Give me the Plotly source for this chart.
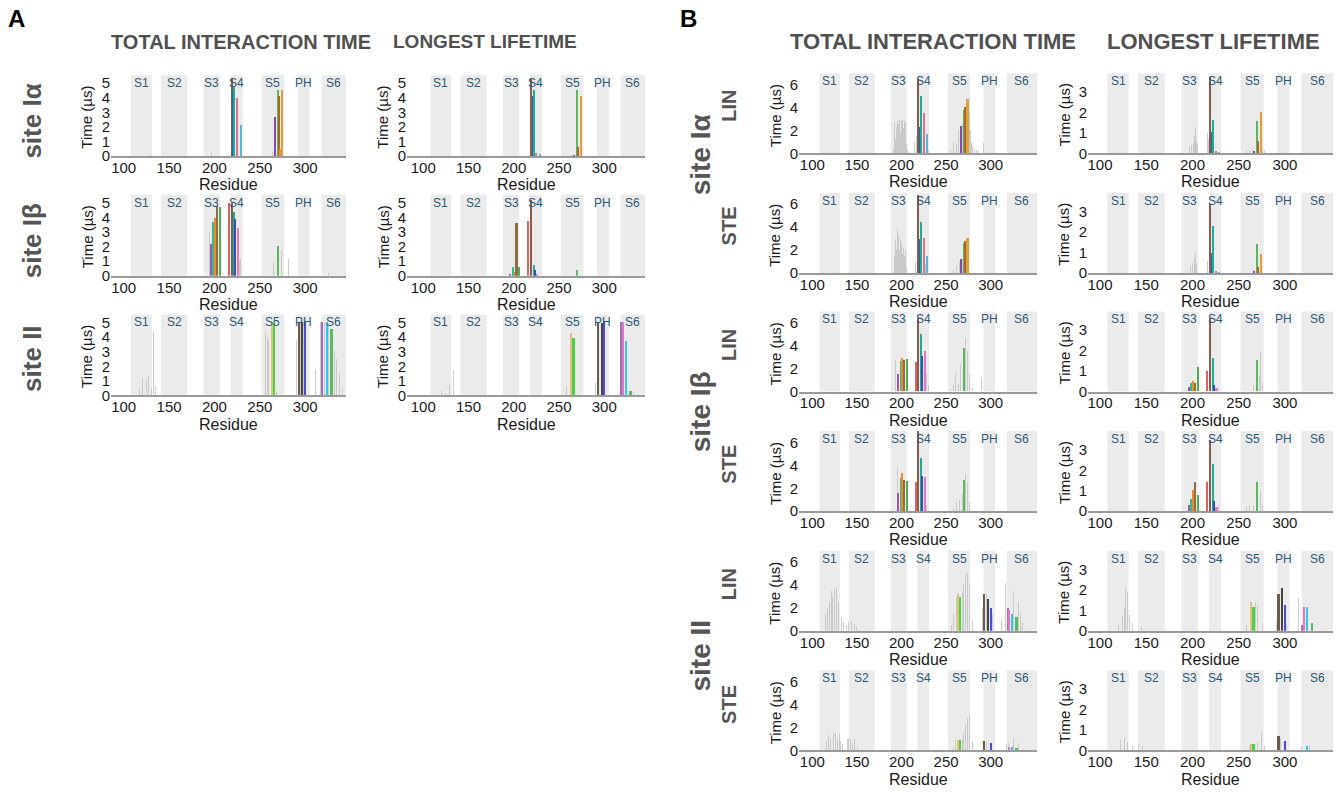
import plotly.graph_objects as go

# ======================= DATA =======================
BAND_NAMES = ["S1", "S2", "S3", "S4", "S5", "PH", "S6"]
BAND_START = [108, 141, 188, 218, 252, 292, 318]
BAND_END = [131, 170, 206, 231, 277, 305, 352]
X_TICKS = [100, 150, 200, 250, 300]

# ---- Panel A, site I-alpha ----
A_Ia_tot_gray_res = [130, 194, 197, 264, 322]
A_Ia_tot_gray_val = [0.1, 1.0, 0.3, 0.3, 0.1]
A_Ia_tot_res = [219, 221, 222, 225, 229, 267, 270, 271, 272, 274]
A_Ia_tot_val = [5.3, 4.45, 4.7, 3.95, 2.15, 2.65, 4.5, 4.1, 0.5, 4.5]
A_Ia_long_gray_res = [198, 264]
A_Ia_long_gray_val = [0.05, 0.05]
A_Ia_long_res = [219, 221, 222, 225, 229, 267, 270, 271, 274]
A_Ia_long_val = [5.3, 4.1, 4.5, 0.2, 0.15, 0.1, 4.5, 0.6, 4.1]

# ---- Panel A, site I-beta ----
A_Ib_tot_gray_res = [195, 228, 229, 265, 274, 280, 282, 326]
A_Ib_tot_gray_val = [3.0, 1.1, 1.2, 0.9, 1.8, 1.3, 1.2, 0.2]
A_Ib_tot_res = [196, 199, 201, 203, 206, 216, 219, 222, 223, 226, 270]
A_Ib_tot_val = [2.2, 3.7, 4.0, 4.8, 4.7, 5.0, 5.0, 4.4, 3.9, 3.3, 2.05]
A_Ib_long_gray_res = [274]
A_Ib_long_gray_val = [0.1]
A_Ib_long_res = [196, 199, 201, 203, 206, 216, 219, 222, 223, 226, 270]
A_Ib_long_val = [0.15, 0.6, 0.3, 3.6, 0.6, 3.8, 5.2, 0.75, 0.4, 0.15, 0.4]

# ---- Panel A, site II ----
A_II_tot_gray_res = [117, 121, 125, 127, 129, 131, 133, 135, 256, 258, 260, 268,
                     290, 295, 298, 302, 311, 313, 317, 321, 326, 332, 335, 338, 341]
A_II_tot_gray_val = [0.4, 1.2, 1.0, 1.3, 4.4, 0.5, 4.3, 0.6, 4.3, 4.0, 3.8, 0.3,
                     3.8, 5.0, 5.0, 4.0, 1.8, 1.3, 5.0, 5.0, 4.8, 3.0, 2.5, 1.5, 0.5]
A_II_tot_res = [263, 266, 293, 297, 300, 319, 324, 329]
A_II_tot_val = [5.0, 5.0, 5.0, 5.0, 5.0, 5.0, 5.0, 4.5]
A_II_long_gray_res = [120, 125, 129, 133, 258, 261, 267, 290, 332]
A_II_long_gray_val = [0.25, 0.15, 0.7, 1.7, 0.6, 0.3, 0.2, 0.8, 0.2]
A_II_long_res = [263, 266, 293, 297, 300, 319, 321, 324, 329]
A_II_long_val = [4.25, 3.9, 5.0, 4.9, 5.0, 5.0, 5.0, 3.7, 0.3]

# ---- Panel B, site I-alpha, LIN ----
B_Ia_LIN_tot_gray_res = [191, 192, 193, 194, 195, 196, 197, 198, 199, 200, 201, 202, 203, 204,
                         205, 206, 207, 214, 215, 217, 220, 226, 228, 230,
                         255, 258, 260, 262, 264, 266, 268, 272, 275, 276, 277, 279, 280, 282, 284, 286, 292]
B_Ia_LIN_tot_gray_val = [0.3, 2.7, 1.2, 2.3, 2.8, 1.5, 2.5, 2.9, 1.8, 2.8, 2.9, 2.2, 2.8, 2.6,
                         1.5, 0.8, 0.3, 2.4, 1.0, 1.5, 2.3, 1.0, 0.7, 0.3,
                         0.3, 1.0, 1.6, 0.8, 2.0, 1.2, 2.5, 3.0, 4.5, 3.6, 2.0, 1.0, 0.6, 0.4, 0.3, 0.2, 0.9]
B_Ia_LIN_tot_res = [219, 221, 222, 225, 229, 267, 270, 271, 274]
B_Ia_LIN_tot_val = [6.5, 2.3, 5.0, 3.5, 1.7, 2.4, 3.8, 4.0, 4.7]
B_Ia_LIN_long_gray_res = [197, 199, 201, 202, 203, 204, 205, 206, 216, 217, 220, 226,
                          258, 262, 265, 276, 278]
B_Ia_LIN_long_gray_val = [0.3, 0.4, 0.5, 0.9, 1.3, 0.6, 0.4, 0.3, 1.0, 0.7, 0.5, 0.1,
                          0.1, 0.15, 0.2, 0.25, 0.15]
B_Ia_LIN_long_res = [219, 221, 222, 225, 229, 267, 270, 271, 274]
B_Ia_LIN_long_val = [3.7, 1.05, 1.6, 0.12, 0.05, 0.08, 1.55, 0.6, 2.0]

# ---- Panel B, site I-alpha, STE ----
B_Ia_STE_tot_gray_res = [192, 193, 194, 195, 196, 197, 198, 199, 200, 201, 202, 203, 204, 205, 206,
                         214, 216, 220, 227, 258, 262, 265, 268, 272, 275, 278]
B_Ia_STE_tot_gray_val = [1.5, 3.0, 2.0, 3.8, 2.5, 3.2, 2.0, 3.0, 2.6, 1.7, 2.2, 1.5, 2.0, 1.0, 0.5,
                         1.5, 1.0, 1.2, 0.8, 0.3, 0.6, 1.0, 1.2, 1.4, 1.0, 0.4]
B_Ia_STE_tot_res = [219, 221, 222, 225, 229, 267, 270, 271, 274]
B_Ia_STE_tot_val = [6.8, 3.0, 4.5, 3.1, 1.5, 1.2, 2.6, 2.8, 3.1]
B_Ia_STE_long_gray_res = [198, 200, 202, 203, 204, 216, 266, 273]
B_Ia_STE_long_gray_val = [0.3, 0.5, 0.7, 1.0, 0.4, 0.6, 0.2, 0.3]
B_Ia_STE_long_res = [219, 221, 222, 225, 229, 267, 270, 271, 274]
B_Ia_STE_long_val = [3.4, 1.0, 2.3, 0.1, 0.05, 0.1, 1.4, 0.3, 0.95]

# ---- Panel B, site I-beta, LIN ----
B_Ib_LIN_tot_gray_res = [193, 228, 230, 255, 258, 261, 264, 266, 272, 274, 276, 278, 280, 290]
B_Ib_LIN_tot_gray_val = [2.7, 1.6, 0.5, 0.2, 0.5, 1.6, 0.6, 2.4, 4.6, 3.5, 1.5, 0.6, 0.3, 1.2]
B_Ib_LIN_tot_res = [196, 199, 201, 203, 206, 216, 219, 222, 223, 226, 270]
B_Ib_LIN_tot_val = [1.5, 2.6, 2.9, 2.7, 2.8, 2.5, 6.4, 5.0, 3.1, 3.5, 3.8]
B_Ib_LIN_long_gray_res = [198, 266, 272, 274, 276]
B_Ib_LIN_long_gray_val = [0.3, 0.3, 0.8, 1.9, 0.4]
B_Ib_LIN_long_res = [196, 199, 201, 203, 206, 216, 219, 222, 223, 226, 270]
B_Ib_LIN_long_val = [0.2, 0.4, 0.5, 0.4, 1.2, 1.0, 3.6, 1.6, 0.3, 0.15, 1.5]

# ---- Panel B, site I-beta, STE ----
B_Ib_STE_tot_gray_res = [195, 228, 258, 262, 265, 268, 272, 274, 276]
B_Ib_STE_tot_gray_val = [3.8, 0.5, 0.3, 0.8, 1.0, 1.5, 3.2, 2.5, 0.8]
B_Ib_STE_tot_res = [196, 199, 201, 203, 206, 216, 219, 222, 223, 226, 270]
B_Ib_STE_tot_val = [1.6, 2.9, 3.3, 2.7, 2.6, 2.5, 7.0, 4.6, 3.1, 3.0, 2.7]
B_Ib_STE_long_gray_res = [220, 228, 258, 262, 266, 274, 276]
B_Ib_STE_long_gray_val = [0.6, 0.3, 0.2, 0.3, 0.3, 1.0, 0.3]
B_Ib_STE_long_res = [196, 199, 201, 203, 206, 216, 219, 222, 223, 226, 270]
B_Ib_STE_long_val = [0.3, 0.6, 1.05, 1.4, 0.8, 1.4, 3.5, 2.3, 0.5, 0.2, 1.4]

# ---- Panel B, site II, LIN ----
B_II_LIN_tot_gray_res = [115, 117, 119, 121, 123, 125, 127, 129, 131, 133, 135, 138, 141, 144, 147, 150,
                         256, 258, 260, 262, 268, 270, 272, 274, 276, 278, 280,
                         291, 295, 302, 312, 315, 317, 326, 331, 333, 336]
B_II_LIN_tot_gray_val = [1.5, 2.0, 2.5, 3.5, 3.0, 3.7, 3.8, 2.5, 1.8, 1.2, 0.8, 0.5, 0.8, 0.9, 0.6, 0.4,
                         0.5, 1.5, 2.0, 3.0, 3.3, 4.0, 5.0, 5.2, 4.2, 2.5, 1.0,
                         2.0, 3.2, 1.5, 1.0, 4.7, 4.2, 3.5, 2.5, 1.5, 0.8]
B_II_LIN_tot_res = [263, 266, 293, 297, 300, 319, 321, 324, 329]
B_II_LIN_tot_val = [3.2, 3.0, 3.2, 2.8, 2.0, 2.0, 1.8, 1.5, 1.2]
B_II_LIN_long_gray_res = [120, 124, 126, 128, 130, 132, 135, 140, 145,
                          258, 268, 270, 273, 276, 291, 302, 315, 326]
B_II_LIN_long_gray_val = [0.3, 0.8, 1.2, 2.1, 1.9, 0.8, 0.4, 0.2, 0.2,
                          0.3, 1.4, 1.3, 0.9, 0.4, 0.4, 0.3, 1.6, 0.2]
B_II_LIN_long_res = [263, 266, 293, 297, 300, 319, 321, 324, 329]
B_II_LIN_long_val = [1.4, 1.2, 1.8, 2.1, 1.3, 0.3, 1.2, 1.2, 0.4]

# ---- Panel B, site II, STE ----
B_II_STE_tot_gray_res = [116, 118, 120, 122, 124, 126, 128, 130, 132, 134, 139, 141, 143, 145, 147, 149, 151,
                         258, 261, 268, 270, 272, 274, 276, 278, 280, 292, 295, 318, 320, 326, 331]
B_II_STE_tot_gray_val = [0.8, 1.3, 1.0, 1.8, 1.5, 1.5, 1.0, 1.4, 0.8, 0.5, 1.0, 1.1, 1.0, 0.6, 1.0, 0.5, 0.3,
                         0.3, 0.8, 1.0, 1.5, 2.2, 2.8, 3.1, 2.5, 0.8, 0.8, 0.7, 0.5, 0.6, 1.0, 0.6]
B_II_STE_tot_res = [263, 266, 293, 300, 321, 324, 329]
B_II_STE_tot_val = [0.9, 0.9, 0.8, 0.6, 0.3, 0.3, 0.2]
B_II_STE_long_gray_res = [122, 126, 130, 135, 142, 146, 262, 270, 273, 275, 278, 295, 318, 327]
B_II_STE_long_gray_val = [0.5, 0.6, 0.4, 0.2, 0.3, 0.2, 0.2, 0.4, 1.4, 0.9, 0.2, 0.6, 0.15, 0.25]
B_II_STE_long_res = [263, 266, 293, 300, 324]
B_II_STE_long_val = [0.3, 0.3, 0.7, 0.45, 0.2]

# ======================= STYLE =======================
FONT = "Liberation Sans, Arial, Helvetica, sans-serif"
GRAY_BAR = "rgba(195,195,195,0.85)"
BAND_FILL = "#ebebeb"
BAND_LABEL = "#2b5772"

PAL_Ia = {219: "#8c5a4a", 221: "#2f5fb0", 222: "#1aae98", 225: "#e0708e", 229: "#55b8d8",
          267: "#8e44ad", 270: "#5cb85c", 271: "#b0651e", 272: "#f08a3a", 274: "#d9a13c"}
PAL_Ib = {196: "#9b59b6", 199: "#2fbf84", 201: "#f5872a", 203: "#8c6d46", 206: "#4caf50",
          216: "#e0605e", 219: "#8c5a4a", 222: "#1aae98", 223: "#3050c0", 226: "#e377c2", 270: "#5cb85c"}
PAL_II = {263: "#e6c07a", 266: "#44d444", 293: "#6e5a4a", 297: "#454545", 300: "#4a4adf",
          319: "#a070c0", 321: "#e377c2", 324: "#2ec7f0", 329: "#5cb85c"}

W, H = 1340, 793
# column geometry: left px, right px, x range
COLS = {"A1": (111, 346, 86, 345), "A2": (407, 645, 82, 345),
        "B1": (799, 1037, 85, 352), "B2": (1088, 1333, 87, 352)}
A_ROWS = [(75, 157), (196, 278), (317, 399)]
B_ROWS = [(73, 154), (194, 275), (314, 395), (435, 516), (556, 637), (677, 758)]
YCFG = {"A": ([0, 5.55], [0, 1, 2, 3, 4, 5]),
        "BT": ([0, 7.0], [0, 2, 4, 6]),
        "BL": ([0, 3.92], [0, 1, 2, 3])}

PANELS = [
    (A_Ia_tot_gray_res, A_Ia_tot_gray_val, A_Ia_tot_res, A_Ia_tot_val, PAL_Ia, "A1", A_ROWS[0], "A"),
    (A_Ia_long_gray_res, A_Ia_long_gray_val, A_Ia_long_res, A_Ia_long_val, PAL_Ia, "A2", A_ROWS[0], "A"),
    (A_Ib_tot_gray_res, A_Ib_tot_gray_val, A_Ib_tot_res, A_Ib_tot_val, PAL_Ib, "A1", A_ROWS[1], "A"),
    (A_Ib_long_gray_res, A_Ib_long_gray_val, A_Ib_long_res, A_Ib_long_val, PAL_Ib, "A2", A_ROWS[1], "A"),
    (A_II_tot_gray_res, A_II_tot_gray_val, A_II_tot_res, A_II_tot_val, PAL_II, "A1", A_ROWS[2], "A"),
    (A_II_long_gray_res, A_II_long_gray_val, A_II_long_res, A_II_long_val, PAL_II, "A2", A_ROWS[2], "A"),
    (B_Ia_LIN_tot_gray_res, B_Ia_LIN_tot_gray_val, B_Ia_LIN_tot_res, B_Ia_LIN_tot_val, PAL_Ia, "B1", B_ROWS[0], "BT"),
    (B_Ia_LIN_long_gray_res, B_Ia_LIN_long_gray_val, B_Ia_LIN_long_res, B_Ia_LIN_long_val, PAL_Ia, "B2", B_ROWS[0], "BL"),
    (B_Ia_STE_tot_gray_res, B_Ia_STE_tot_gray_val, B_Ia_STE_tot_res, B_Ia_STE_tot_val, PAL_Ia, "B1", B_ROWS[1], "BT"),
    (B_Ia_STE_long_gray_res, B_Ia_STE_long_gray_val, B_Ia_STE_long_res, B_Ia_STE_long_val, PAL_Ia, "B2", B_ROWS[1], "BL"),
    (B_Ib_LIN_tot_gray_res, B_Ib_LIN_tot_gray_val, B_Ib_LIN_tot_res, B_Ib_LIN_tot_val, PAL_Ib, "B1", B_ROWS[2], "BT"),
    (B_Ib_LIN_long_gray_res, B_Ib_LIN_long_gray_val, B_Ib_LIN_long_res, B_Ib_LIN_long_val, PAL_Ib, "B2", B_ROWS[2], "BL"),
    (B_Ib_STE_tot_gray_res, B_Ib_STE_tot_gray_val, B_Ib_STE_tot_res, B_Ib_STE_tot_val, PAL_Ib, "B1", B_ROWS[3], "BT"),
    (B_Ib_STE_long_gray_res, B_Ib_STE_long_gray_val, B_Ib_STE_long_res, B_Ib_STE_long_val, PAL_Ib, "B2", B_ROWS[3], "BL"),
    (B_II_LIN_tot_gray_res, B_II_LIN_tot_gray_val, B_II_LIN_tot_res, B_II_LIN_tot_val, PAL_II, "B1", B_ROWS[4], "BT"),
    (B_II_LIN_long_gray_res, B_II_LIN_long_gray_val, B_II_LIN_long_res, B_II_LIN_long_val, PAL_II, "B2", B_ROWS[4], "BL"),
    (B_II_STE_tot_gray_res, B_II_STE_tot_gray_val, B_II_STE_tot_res, B_II_STE_tot_val, PAL_II, "B1", B_ROWS[5], "BT"),
    (B_II_STE_long_gray_res, B_II_STE_long_gray_val, B_II_STE_long_res, B_II_STE_long_val, PAL_II, "B2", B_ROWS[5], "BL"),
]


def px_x(p):
    return p / W


def px_y(p):
    return 1 - p / H


fig = go.Figure()
layout = {}
shapes = []
annotations = []


def label(x, y, text, size, color, angle=0):
    annotations.append(dict(xref="paper", yref="paper", x=px_x(x), y=px_y(y), text=text,
                            xanchor="center", yanchor="middle", textangle=angle, showarrow=False,
                            font=dict(size=size, color=color, family=FONT)))


for i, (g_res, g_val, c_res, c_val, pal, colkey, (top, bot), ykey) in enumerate(PANELS, start=1):
    xs = "" if i == 1 else str(i)
    left, right, x0, x1 = COLS[colkey]
    yrange, yticks = YCFG[ykey]
    xa, ya = "x" + xs, "y" + xs
    fig.add_trace(go.Bar(x=g_res, y=g_val, width=1.0, marker=dict(color=GRAY_BAR, line=dict(width=0)),
                         xaxis=xa, yaxis=ya, showlegend=False, hoverinfo="x+y"))
    fig.add_trace(go.Bar(x=c_res, y=c_val, width=2.3,
                         marker=dict(color=[pal[r] for r in c_res], line=dict(width=0)),
                         xaxis=xa, yaxis=ya, showlegend=False, hoverinfo="x+y"))
    layout["xaxis" + xs] = dict(domain=[px_x(left), px_x(right)], range=[x0, x1], anchor=ya,
                                tickvals=X_TICKS, ticks="", showgrid=False, zeroline=False,
                                showline=True, linecolor="#9a9a9a", linewidth=1.5,
                                tickfont=dict(size=15, color="#1a1a1a", family=FONT), ticklabelstandoff=-3)
    layout["yaxis" + xs] = dict(domain=[px_y(bot), px_y(top)], range=yrange, anchor=xa,
                                tickvals=yticks, ticks="", showgrid=False, zeroline=False,
                                showline=False,
                                tickfont=dict(size=15, color="#1a1a1a", family=FONT), ticklabelstandoff=0)
    for name, b0, b1 in zip(BAND_NAMES, BAND_START, BAND_END):
        b1c = min(b1, x1)
        shapes.append(dict(type="rect", xref=xa, yref=ya + " domain", x0=b0, x1=b1c, y0=0, y1=1,
                           fillcolor=BAND_FILL, line=dict(width=0), layer="below"))
        annotations.append(dict(xref=xa, yref=ya + " domain", x=(b0 + b1c) / 2, y=1.0,
                                xanchor="center", yanchor="top",
                                yshift=1, text=name, showarrow=False,
                                font=dict(size=12, color=BAND_LABEL, family=FONT)))
    # axis titles
    label((left + right) / 2, bot + 29, "Residue", 16, "#1a1a1a")
    label(left - 24, (top + bot) / 2 + 2, "Time (\u00b5s)", 15, "#1a1a1a", -90)

# panel letters and column headers
HDR = "#505050"
label(16, 18, "<b>A</b>", 24, "#000")
label(688, 18, "<b>B</b>", 24, "#000")
label(241, 41, "<b>TOTAL INTERACTION TIME</b>", 20, HDR)
label(485, 41, "<b>LONGEST LIFETIME</b>", 19, HDR)
label(933, 41, "<b>TOTAL INTERACTION TIME</b>", 22, HDR)
label(1213, 41, "<b>LONGEST LIFETIME</b>", 22, HDR)

# row labels
for txt, x, y, size in [("site I\u03b1", 32, 122, 26), ("site I\u03b2", 32, 243, 26), ("site II", 32, 362, 26),
                        ("site I\u03b1", 700, 155, 28), ("site I\u03b2", 700, 415, 28), ("site II", 700, 662, 28),
                        ("LIN", 729, 106, 20), ("STE", 729, 228, 20), ("LIN", 729, 348, 20),
                        ("STE", 729, 469, 20), ("LIN", 729, 590, 20), ("STE", 729, 712, 20)]:
    label(x, y, "<b>%s</b>" % txt, size, "#555555", -90)

layout.update(dict(width=W, height=H, margin=dict(l=0, r=0, t=0, b=0), barmode="overlay",
                   plot_bgcolor="white", paper_bgcolor="white", shapes=shapes, annotations=annotations,
                   font=dict(family=FONT), bargap=0))
fig.update_layout(**layout)
fig.write_html("out.html")
